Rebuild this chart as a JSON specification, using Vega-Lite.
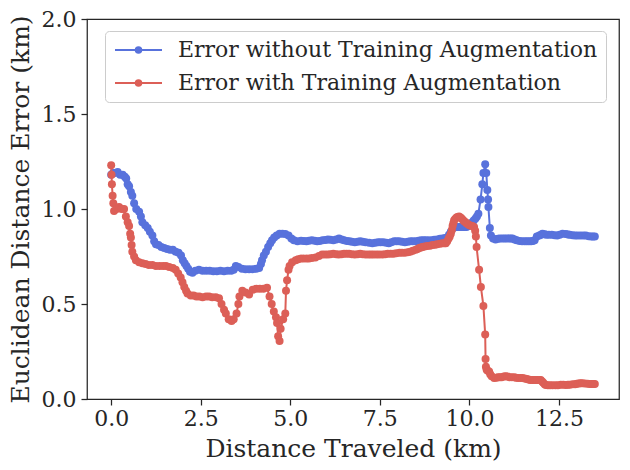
{
  "$schema": "https://vega.github.io/schema/vega-lite/v6.json",
  "width": 532,
  "height": 380,
  "autosize": {"type": "none"},
  "padding": {"left": 87, "top": 19, "right": 11, "bottom": 71},
  "background": "white",
  "config": {
    "view": {"stroke": "#262626", "strokeWidth": 1.25},
    "font": "DejaVu Serif",
    "axis": {
      "domain": false,
      "grid": false,
      "ticks": true,
      "tickColor": "#262626",
      "tickWidth": 1.25,
      "tickSize": 6,
      "labelFont": "DejaVu Serif",
      "labelFontSize": 22,
      "labelColor": "#262626",
      "titleFont": "DejaVu Serif",
      "titleFontSize": 25,
      "titleFontWeight": "normal",
      "titleColor": "#262626"
    },
    "legend": {
      "orient": "none",
      "legendX": 18,
      "legendY": 12,
      "fillColor": "white",
      "strokeColor": "#cccccc",
      "cornerRadius": 4,
      "padding": 8,
      "labelFont": "DejaVu Serif",
      "labelFontSize": 22,
      "labelLimit": 600,
      "labelColor": "#262626",
      "symbolSize": 100,
      "symbolType": "M-1.8,0L7.6,0M3.45,0A0.55,0.55,0,1,1,2.35,0A0.55,0.55,0,1,1,3.45,0",
      "symbolStrokeWidth": 2,
      "labelOffset": 43,
      "rowPadding": 11
    }
  },
  "datasets": {
    "without": [
      {"distance": 0.00, "error": 1.18},
      {"distance": 0.05, "error": 1.19},
      {"distance": 0.10, "error": 1.19},
      {"distance": 0.18, "error": 1.195},
      {"distance": 0.25, "error": 1.18},
      {"distance": 0.32, "error": 1.18},
      {"distance": 0.38, "error": 1.17},
      {"distance": 0.42, "error": 1.16},
      {"distance": 0.46, "error": 1.13},
      {"distance": 0.50, "error": 1.12},
      {"distance": 0.55, "error": 1.09},
      {"distance": 0.59, "error": 1.07},
      {"distance": 0.64, "error": 1.03},
      {"distance": 0.70, "error": 1.00},
      {"distance": 0.78, "error": 0.985},
      {"distance": 0.83, "error": 0.96},
      {"distance": 0.87, "error": 0.93},
      {"distance": 0.95, "error": 0.915},
      {"distance": 1.02, "error": 0.90},
      {"distance": 1.08, "error": 0.88},
      {"distance": 1.15, "error": 0.86},
      {"distance": 1.20, "error": 0.83},
      {"distance": 1.25, "error": 0.815},
      {"distance": 1.32, "error": 0.81},
      {"distance": 1.40, "error": 0.80},
      {"distance": 1.48, "error": 0.795},
      {"distance": 1.56, "error": 0.79},
      {"distance": 1.64, "error": 0.785},
      {"distance": 1.72, "error": 0.785},
      {"distance": 1.80, "error": 0.775},
      {"distance": 1.88, "error": 0.77},
      {"distance": 1.95, "error": 0.755},
      {"distance": 2.00, "error": 0.73},
      {"distance": 2.05, "error": 0.715},
      {"distance": 2.10, "error": 0.70},
      {"distance": 2.15, "error": 0.685},
      {"distance": 2.20, "error": 0.67},
      {"distance": 2.27, "error": 0.665},
      {"distance": 2.35, "error": 0.675},
      {"distance": 2.45, "error": 0.68},
      {"distance": 2.55, "error": 0.675},
      {"distance": 2.65, "error": 0.675},
      {"distance": 2.75, "error": 0.675},
      {"distance": 2.85, "error": 0.673},
      {"distance": 2.95, "error": 0.673},
      {"distance": 3.05, "error": 0.675},
      {"distance": 3.15, "error": 0.673},
      {"distance": 3.25, "error": 0.675},
      {"distance": 3.35, "error": 0.675},
      {"distance": 3.42, "error": 0.68},
      {"distance": 3.48, "error": 0.70},
      {"distance": 3.55, "error": 0.695},
      {"distance": 3.65, "error": 0.685},
      {"distance": 3.75, "error": 0.683},
      {"distance": 3.85, "error": 0.683},
      {"distance": 3.95, "error": 0.683},
      {"distance": 4.05, "error": 0.685},
      {"distance": 4.13, "error": 0.69},
      {"distance": 4.18, "error": 0.71},
      {"distance": 4.21, "error": 0.73},
      {"distance": 4.26, "error": 0.755},
      {"distance": 4.32, "error": 0.775},
      {"distance": 4.38, "error": 0.80},
      {"distance": 4.44, "error": 0.82},
      {"distance": 4.49, "error": 0.835},
      {"distance": 4.55, "error": 0.85},
      {"distance": 4.62, "error": 0.86},
      {"distance": 4.70, "error": 0.87},
      {"distance": 4.78, "error": 0.87},
      {"distance": 4.86, "error": 0.868},
      {"distance": 4.95, "error": 0.86},
      {"distance": 5.03, "error": 0.845},
      {"distance": 5.10, "error": 0.835},
      {"distance": 5.20, "error": 0.83},
      {"distance": 5.30, "error": 0.833},
      {"distance": 5.38, "error": 0.832},
      {"distance": 5.45, "error": 0.83},
      {"distance": 5.52, "error": 0.833},
      {"distance": 5.60, "error": 0.835},
      {"distance": 5.68, "error": 0.833},
      {"distance": 5.75, "error": 0.83},
      {"distance": 5.82, "error": 0.832},
      {"distance": 5.90, "error": 0.835},
      {"distance": 5.98, "error": 0.837},
      {"distance": 6.05, "error": 0.84},
      {"distance": 6.12, "error": 0.838},
      {"distance": 6.20, "error": 0.835},
      {"distance": 6.28, "error": 0.84},
      {"distance": 6.36, "error": 0.845},
      {"distance": 6.43, "error": 0.84},
      {"distance": 6.50, "error": 0.835},
      {"distance": 6.58, "error": 0.832},
      {"distance": 6.65, "error": 0.83},
      {"distance": 6.72, "error": 0.828},
      {"distance": 6.80, "error": 0.825},
      {"distance": 6.88, "error": 0.828},
      {"distance": 6.95, "error": 0.83},
      {"distance": 7.02, "error": 0.828},
      {"distance": 7.10, "error": 0.825},
      {"distance": 7.20, "error": 0.822},
      {"distance": 7.29, "error": 0.82},
      {"distance": 7.37, "error": 0.823},
      {"distance": 7.45, "error": 0.825},
      {"distance": 7.52, "error": 0.825},
      {"distance": 7.60, "error": 0.825},
      {"distance": 7.68, "error": 0.822},
      {"distance": 7.75, "error": 0.82},
      {"distance": 7.82, "error": 0.825},
      {"distance": 7.90, "error": 0.83},
      {"distance": 7.97, "error": 0.83},
      {"distance": 8.04, "error": 0.83},
      {"distance": 8.12, "error": 0.828},
      {"distance": 8.20, "error": 0.825},
      {"distance": 8.28, "error": 0.828},
      {"distance": 8.35, "error": 0.83},
      {"distance": 8.42, "error": 0.83},
      {"distance": 8.50, "error": 0.83},
      {"distance": 8.58, "error": 0.833},
      {"distance": 8.65, "error": 0.835},
      {"distance": 8.72, "error": 0.835},
      {"distance": 8.78, "error": 0.835},
      {"distance": 8.86, "error": 0.835},
      {"distance": 8.95, "error": 0.835},
      {"distance": 9.02, "error": 0.838},
      {"distance": 9.10, "error": 0.84},
      {"distance": 9.18, "error": 0.843},
      {"distance": 9.25, "error": 0.845},
      {"distance": 9.32, "error": 0.847},
      {"distance": 9.38, "error": 0.85},
      {"distance": 9.43, "error": 0.865},
      {"distance": 9.48, "error": 0.88},
      {"distance": 9.55, "error": 0.90},
      {"distance": 9.62, "error": 0.905},
      {"distance": 9.67, "error": 0.905},
      {"distance": 9.72, "error": 0.905},
      {"distance": 9.77, "error": 0.905},
      {"distance": 9.82, "error": 0.905},
      {"distance": 9.87, "error": 0.905},
      {"distance": 9.92, "error": 0.905},
      {"distance": 9.96, "error": 0.91},
      {"distance": 10.00, "error": 0.915},
      {"distance": 10.04, "error": 0.92},
      {"distance": 10.08, "error": 0.93},
      {"distance": 10.12, "error": 0.94},
      {"distance": 10.17, "error": 0.95},
      {"distance": 10.21, "error": 0.96},
      {"distance": 10.25, "error": 0.975},
      {"distance": 10.31, "error": 1.05},
      {"distance": 10.36, "error": 1.13},
      {"distance": 10.39, "error": 1.19},
      {"distance": 10.44, "error": 1.235},
      {"distance": 10.47, "error": 1.19},
      {"distance": 10.50, "error": 1.10},
      {"distance": 10.52, "error": 1.05},
      {"distance": 10.53, "error": 1.01},
      {"distance": 10.57, "error": 0.90},
      {"distance": 10.60, "error": 0.86},
      {"distance": 10.66, "error": 0.845},
      {"distance": 10.73, "error": 0.84},
      {"distance": 10.80, "error": 0.843},
      {"distance": 10.85, "error": 0.845},
      {"distance": 10.92, "error": 0.845},
      {"distance": 10.98, "error": 0.845},
      {"distance": 11.04, "error": 0.845},
      {"distance": 11.10, "error": 0.845},
      {"distance": 11.15, "error": 0.845},
      {"distance": 11.20, "error": 0.845},
      {"distance": 11.26, "error": 0.84},
      {"distance": 11.32, "error": 0.835},
      {"distance": 11.40, "error": 0.832},
      {"distance": 11.47, "error": 0.83},
      {"distance": 11.54, "error": 0.83},
      {"distance": 11.60, "error": 0.83},
      {"distance": 11.66, "error": 0.83},
      {"distance": 11.72, "error": 0.83},
      {"distance": 11.77, "error": 0.832},
      {"distance": 11.82, "error": 0.835},
      {"distance": 11.88, "error": 0.855},
      {"distance": 11.95, "error": 0.86},
      {"distance": 12.00, "error": 0.865},
      {"distance": 12.04, "error": 0.87},
      {"distance": 12.10, "error": 0.867},
      {"distance": 12.15, "error": 0.865},
      {"distance": 12.22, "error": 0.865},
      {"distance": 12.30, "error": 0.865},
      {"distance": 12.38, "error": 0.862},
      {"distance": 12.45, "error": 0.86},
      {"distance": 12.52, "error": 0.865},
      {"distance": 12.60, "error": 0.87},
      {"distance": 12.69, "error": 0.868},
      {"distance": 12.75, "error": 0.866},
      {"distance": 12.80, "error": 0.865},
      {"distance": 12.88, "error": 0.862},
      {"distance": 12.95, "error": 0.86},
      {"distance": 13.02, "error": 0.86},
      {"distance": 13.10, "error": 0.86},
      {"distance": 13.18, "error": 0.86},
      {"distance": 13.25, "error": 0.86},
      {"distance": 13.33, "error": 0.857},
      {"distance": 13.40, "error": 0.855},
      {"distance": 13.45, "error": 0.855},
      {"distance": 13.50, "error": 0.855}
    ],
    "with": [
      {"distance": 0.00, "error": 1.23},
      {"distance": 0.01, "error": 1.18},
      {"distance": 0.02, "error": 1.13},
      {"distance": 0.04, "error": 1.07},
      {"distance": 0.06, "error": 1.03},
      {"distance": 0.08, "error": 0.99},
      {"distance": 0.15, "error": 1.00},
      {"distance": 0.22, "error": 1.01},
      {"distance": 0.29, "error": 1.00},
      {"distance": 0.36, "error": 1.00},
      {"distance": 0.41, "error": 0.96},
      {"distance": 0.46, "error": 0.93},
      {"distance": 0.50, "error": 0.91},
      {"distance": 0.53, "error": 0.87},
      {"distance": 0.55, "error": 0.85},
      {"distance": 0.57, "error": 0.81},
      {"distance": 0.59, "error": 0.775},
      {"distance": 0.64, "error": 0.75},
      {"distance": 0.69, "error": 0.73},
      {"distance": 0.78, "error": 0.72},
      {"distance": 0.87, "error": 0.715},
      {"distance": 0.96, "error": 0.71},
      {"distance": 1.05, "error": 0.705},
      {"distance": 1.15, "error": 0.705},
      {"distance": 1.25, "error": 0.70},
      {"distance": 1.35, "error": 0.70},
      {"distance": 1.45, "error": 0.70},
      {"distance": 1.53, "error": 0.70},
      {"distance": 1.62, "error": 0.695},
      {"distance": 1.72, "error": 0.69},
      {"distance": 1.80, "error": 0.68},
      {"distance": 1.87, "error": 0.66},
      {"distance": 1.94, "error": 0.64},
      {"distance": 1.99, "error": 0.615},
      {"distance": 2.04, "error": 0.59},
      {"distance": 2.09, "error": 0.57},
      {"distance": 2.13, "error": 0.555},
      {"distance": 2.22, "error": 0.545},
      {"distance": 2.30, "error": 0.545},
      {"distance": 2.38, "error": 0.54},
      {"distance": 2.46, "error": 0.54},
      {"distance": 2.55, "error": 0.535},
      {"distance": 2.65, "error": 0.54},
      {"distance": 2.73, "error": 0.54},
      {"distance": 2.82, "error": 0.535},
      {"distance": 2.92, "error": 0.535},
      {"distance": 3.01, "error": 0.53},
      {"distance": 3.08, "error": 0.50},
      {"distance": 3.15, "error": 0.47},
      {"distance": 3.20, "error": 0.45},
      {"distance": 3.28, "error": 0.42},
      {"distance": 3.36, "error": 0.41},
      {"distance": 3.42, "error": 0.42},
      {"distance": 3.50, "error": 0.45},
      {"distance": 3.55, "error": 0.50},
      {"distance": 3.58, "error": 0.54},
      {"distance": 3.66, "error": 0.57},
      {"distance": 3.75, "error": 0.56},
      {"distance": 3.85, "error": 0.55},
      {"distance": 3.95, "error": 0.575},
      {"distance": 4.05, "error": 0.58},
      {"distance": 4.15, "error": 0.58},
      {"distance": 4.25, "error": 0.58},
      {"distance": 4.35, "error": 0.585},
      {"distance": 4.42, "error": 0.54},
      {"distance": 4.48, "error": 0.50},
      {"distance": 4.54, "error": 0.46},
      {"distance": 4.60, "error": 0.43},
      {"distance": 4.63, "error": 0.40},
      {"distance": 4.66, "error": 0.33},
      {"distance": 4.70, "error": 0.305},
      {"distance": 4.73, "error": 0.37},
      {"distance": 4.80, "error": 0.42},
      {"distance": 4.86, "error": 0.45},
      {"distance": 4.88, "error": 0.57},
      {"distance": 4.91, "error": 0.625},
      {"distance": 4.95, "error": 0.68},
      {"distance": 4.98, "error": 0.70},
      {"distance": 5.05, "error": 0.72},
      {"distance": 5.15, "error": 0.73},
      {"distance": 5.22, "error": 0.735},
      {"distance": 5.30, "error": 0.74},
      {"distance": 5.37, "error": 0.74},
      {"distance": 5.45, "error": 0.74},
      {"distance": 5.52, "error": 0.74},
      {"distance": 5.60, "error": 0.742},
      {"distance": 5.70, "error": 0.745},
      {"distance": 5.80, "error": 0.752},
      {"distance": 5.89, "error": 0.76},
      {"distance": 5.97, "error": 0.76},
      {"distance": 6.05, "error": 0.76},
      {"distance": 6.12, "error": 0.762},
      {"distance": 6.20, "error": 0.765},
      {"distance": 6.28, "error": 0.762},
      {"distance": 6.35, "error": 0.76},
      {"distance": 6.43, "error": 0.762},
      {"distance": 6.50, "error": 0.765},
      {"distance": 6.57, "error": 0.765},
      {"distance": 6.64, "error": 0.765},
      {"distance": 6.72, "error": 0.762},
      {"distance": 6.80, "error": 0.76},
      {"distance": 6.88, "error": 0.762},
      {"distance": 6.95, "error": 0.765},
      {"distance": 7.02, "error": 0.762},
      {"distance": 7.10, "error": 0.76},
      {"distance": 7.18, "error": 0.76},
      {"distance": 7.25, "error": 0.76},
      {"distance": 7.32, "error": 0.76},
      {"distance": 7.40, "error": 0.76},
      {"distance": 7.48, "error": 0.76},
      {"distance": 7.57, "error": 0.76},
      {"distance": 7.65, "error": 0.762},
      {"distance": 7.72, "error": 0.765},
      {"distance": 7.80, "error": 0.765},
      {"distance": 7.88, "error": 0.765},
      {"distance": 7.96, "error": 0.767},
      {"distance": 8.05, "error": 0.77},
      {"distance": 8.12, "error": 0.77},
      {"distance": 8.20, "error": 0.77},
      {"distance": 8.28, "error": 0.772},
      {"distance": 8.35, "error": 0.775},
      {"distance": 8.42, "error": 0.78},
      {"distance": 8.50, "error": 0.785},
      {"distance": 8.55, "error": 0.79},
      {"distance": 8.60, "error": 0.795},
      {"distance": 8.65, "error": 0.798},
      {"distance": 8.69, "error": 0.80},
      {"distance": 8.75, "error": 0.802},
      {"distance": 8.82, "error": 0.805},
      {"distance": 8.90, "error": 0.807},
      {"distance": 8.97, "error": 0.81},
      {"distance": 9.04, "error": 0.812},
      {"distance": 9.10, "error": 0.815},
      {"distance": 9.18, "error": 0.817},
      {"distance": 9.25, "error": 0.82},
      {"distance": 9.30, "error": 0.82},
      {"distance": 9.34, "error": 0.82},
      {"distance": 9.38, "error": 0.83},
      {"distance": 9.42, "error": 0.845},
      {"distance": 9.45, "error": 0.855},
      {"distance": 9.48, "error": 0.87},
      {"distance": 9.51, "error": 0.89},
      {"distance": 9.53, "error": 0.91},
      {"distance": 9.55, "error": 0.925},
      {"distance": 9.57, "error": 0.94},
      {"distance": 9.60, "error": 0.948},
      {"distance": 9.64, "error": 0.955},
      {"distance": 9.67, "error": 0.958},
      {"distance": 9.71, "error": 0.96},
      {"distance": 9.75, "error": 0.955},
      {"distance": 9.78, "error": 0.95},
      {"distance": 9.82, "error": 0.942},
      {"distance": 9.85, "error": 0.935},
      {"distance": 9.89, "error": 0.93},
      {"distance": 9.92, "error": 0.925},
      {"distance": 9.96, "error": 0.92},
      {"distance": 10.00, "error": 0.915},
      {"distance": 10.04, "error": 0.912},
      {"distance": 10.08, "error": 0.91},
      {"distance": 10.13, "error": 0.905},
      {"distance": 10.16, "error": 0.885},
      {"distance": 10.18, "error": 0.855},
      {"distance": 10.20, "error": 0.80},
      {"distance": 10.27, "error": 0.68},
      {"distance": 10.32, "error": 0.59},
      {"distance": 10.39, "error": 0.49},
      {"distance": 10.44, "error": 0.34},
      {"distance": 10.45, "error": 0.21},
      {"distance": 10.46, "error": 0.17},
      {"distance": 10.48, "error": 0.155},
      {"distance": 10.50, "error": 0.15},
      {"distance": 10.55, "error": 0.145},
      {"distance": 10.58, "error": 0.13},
      {"distance": 10.62, "error": 0.12},
      {"distance": 10.69, "error": 0.11},
      {"distance": 10.75, "error": 0.112},
      {"distance": 10.80, "error": 0.115},
      {"distance": 10.85, "error": 0.115},
      {"distance": 10.90, "error": 0.115},
      {"distance": 10.96, "error": 0.118},
      {"distance": 11.01, "error": 0.12},
      {"distance": 11.06, "error": 0.118},
      {"distance": 11.12, "error": 0.115},
      {"distance": 11.18, "error": 0.115},
      {"distance": 11.25, "error": 0.115},
      {"distance": 11.30, "error": 0.112},
      {"distance": 11.36, "error": 0.11},
      {"distance": 11.42, "error": 0.11},
      {"distance": 11.48, "error": 0.11},
      {"distance": 11.54, "error": 0.108},
      {"distance": 11.60, "error": 0.105},
      {"distance": 11.65, "error": 0.102},
      {"distance": 11.70, "error": 0.10},
      {"distance": 11.75, "error": 0.10},
      {"distance": 11.80, "error": 0.10},
      {"distance": 11.85, "error": 0.10},
      {"distance": 11.90, "error": 0.10},
      {"distance": 11.95, "error": 0.10},
      {"distance": 11.99, "error": 0.10},
      {"distance": 12.03, "error": 0.092},
      {"distance": 12.06, "error": 0.085},
      {"distance": 12.10, "error": 0.078},
      {"distance": 12.13, "error": 0.074},
      {"distance": 12.19, "error": 0.073},
      {"distance": 12.25, "error": 0.072},
      {"distance": 12.32, "error": 0.072},
      {"distance": 12.40, "error": 0.072},
      {"distance": 12.47, "error": 0.073},
      {"distance": 12.55, "error": 0.075},
      {"distance": 12.62, "error": 0.075},
      {"distance": 12.69, "error": 0.074},
      {"distance": 12.75, "error": 0.075},
      {"distance": 12.80, "error": 0.075},
      {"distance": 12.88, "error": 0.077},
      {"distance": 12.95, "error": 0.078},
      {"distance": 13.00, "error": 0.08},
      {"distance": 13.05, "error": 0.082},
      {"distance": 13.10, "error": 0.083},
      {"distance": 13.15, "error": 0.083},
      {"distance": 13.22, "error": 0.082},
      {"distance": 13.30, "error": 0.08},
      {"distance": 13.36, "error": 0.079},
      {"distance": 13.42, "error": 0.079},
      {"distance": 13.46, "error": 0.079},
      {"distance": 13.50, "error": 0.079}
    ]
  },
  "encoding": {
    "x": {
      "field": "distance",
      "type": "quantitative",
      "scale": {"domain": [-0.675, 14.175], "nice": false, "zero": false},
      "axis": {"title": "Distance Traveled (km)", "values": [0, 2.5, 5, 7.5, 10, 12.5], "format": ".1f", "labelPadding": 3, "titlePadding": 7}
    },
    "y": {
      "field": "error",
      "type": "quantitative",
      "scale": {"domain": [0, 2], "nice": false},
      "axis": {"title": "Euclidean Distance Error (km)", "values": [0, 0.5, 1, 1.5, 2], "format": ".1f", "labelPadding": 5, "titlePadding": 8}
    },
    "color": {
      "type": "nominal",
      "scale": {
        "domain": ["Error without Training Augmentation", "Error with Training Augmentation"],
        "range": ["#5872dc", "#dc5f57"]
      },
      "legend": {
        "title": null,
        "encode": {
          "symbols": {
            "update": {
              "fill": {"scale": "color", "field": "value"},
              "stroke": {"scale": "color", "field": "value"},
              "opacity": {"value": 1}
            }
          }
        }
      }
    }
  },
  "layer": [
    {
      "data": {"name": "without"},
      "mark": {"type": "line", "strokeWidth": 2},
      "encoding": {"color": {"datum": "Error without Training Augmentation", "type": "nominal"}}
    },
    {
      "data": {"name": "without"},
      "mark": {"type": "point", "filled": true, "size": 64, "opacity": 1},
      "encoding": {"color": {"datum": "Error without Training Augmentation", "type": "nominal"}}
    },
    {
      "data": {"name": "with"},
      "mark": {"type": "line", "strokeWidth": 2},
      "encoding": {"color": {"datum": "Error with Training Augmentation", "type": "nominal"}}
    },
    {
      "data": {"name": "with"},
      "mark": {"type": "point", "filled": true, "size": 64, "opacity": 1},
      "encoding": {"color": {"datum": "Error with Training Augmentation", "type": "nominal"}}
    }
  ]
}
